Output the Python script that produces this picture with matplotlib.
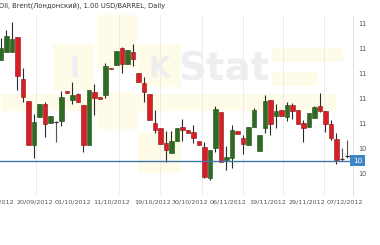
import matplotlib
matplotlib.use('Agg')
import matplotlib.pyplot as plt
import matplotlib.transforms as mtrans
from matplotlib.patches import Rectangle
import numpy as np

title = "Oil, Brent(Лондонский), 1.00 USD/BARREL, Daily"

opens = [115.04,115.66,115.70,116.90,113.52,111.76,108.24,110.50,111.54,109.98,110.06,110.16,112.54,111.86,112.34,111.44,108.24,112.46,112.08,112.24,114.40,114.64,115.98,114.70,115.70,113.98,113.18,112.32,109.98,109.58,108.38,107.58,108.56,109.70,109.44,109.26,108.56,108.10,105.58,107.98,110.90,107.04,107.22,109.36,108.78,108.24,109.70,107.76,109.58,111.84,110.56,111.02,110.50,111.44,111.04,109.98,109.70,110.38,111.38,110.96,109.90,108.72,107.12,107.36]
highs = [116.78,117.44,118.06,116.90,114.42,111.76,110.74,111.50,111.66,110.54,110.16,112.56,112.56,113.30,112.42,111.44,112.64,113.12,112.08,114.82,114.40,115.78,116.08,115.84,116.30,113.98,113.70,112.32,111.04,109.58,109.36,109.36,109.58,110.32,109.44,109.84,108.56,108.50,107.84,111.38,110.90,108.18,109.84,109.36,109.04,109.66,111.22,109.04,112.24,111.84,111.50,111.02,111.66,111.58,111.04,110.24,110.78,111.38,112.38,110.96,110.24,109.18,107.98,108.64]
lows = [115.04,115.66,115.70,112.64,111.70,108.24,107.18,110.50,108.86,109.98,108.50,109.78,112.40,111.52,111.66,107.70,108.24,110.64,111.90,112.02,114.32,114.64,114.04,114.70,114.56,113.26,111.66,110.24,109.18,108.30,106.90,107.58,108.56,108.56,109.18,108.38,108.24,105.58,105.44,107.70,106.90,106.24,106.38,109.12,107.50,108.24,109.70,107.76,109.18,109.04,109.62,110.58,110.16,110.32,109.92,108.50,109.70,110.38,110.90,109.26,108.64,106.70,106.96,107.20]
closes = [115.98,116.96,116.72,113.78,112.10,108.24,110.06,111.50,109.90,110.54,110.10,112.08,112.42,112.24,111.66,108.24,112.64,112.02,111.90,114.58,114.32,115.78,114.70,115.84,115.10,113.26,112.46,110.24,109.44,108.30,107.84,108.56,109.58,109.44,109.18,108.78,108.24,105.70,107.84,111.12,106.90,107.30,109.44,109.12,108.30,109.66,111.04,109.04,111.76,109.90,110.96,110.58,111.44,110.98,109.92,109.58,110.78,111.30,110.96,109.90,108.82,107.04,107.10,107.38]

current_price = 107.0
current_label = "10"

ytick_values = [118, 116, 114, 112, 110, 108, 106]
ytick_labels = ["11", "11", "11", "11", "11", "10", "10"]

xtick_pos = [6.2, 13.1, 20.2, 27.5, 34.4, 41.3, 48.4, 55.6, 62.5]
xtick_labels = ["20/09/2012", "01/10/2012", "11/10/2012", "19/10/2012", "30/10/2012",
                "06/11/2012", "19/11/2012", "29/11/2012", "07/12/2012"]
partial_label = "12/09/2012"
grid_pos = [6.36, 21.45, 28.9, 36.5, 44.0, 51.3, 58.7]

GREEN = "#2f6b22"
GREEN_E = "#1f4a16"
RED = "#d91f26"
RED_E = "#8a1216"
WICK = "#2a2a2a"

fig = plt.figure(figsize=(3.8, 2.45), dpi=100)
ax = fig.add_axes([0, 50/245, 353/380, 180/245])
ax.set_xlim(-0.18, 64.0)
ax.set_ylim(104.24, 118.64)

# faint watermark
yc = "#fefbe9"
for (x0, y0, wd, ht) in [(17.4, 114.4, 7.3, 4.5), (9.4, 112.6, 7.5, 3.7),
                         (24.9, 112.9, 7.8, 3.4), (17.4, 109.5, 7.3, 3.0),
                         (24.9, 106.0, 7.8, 3.3), (49.3, 114.9, 12.8, 1.1),
                         (49.3, 113.0, 8.2, 1.1), (0.0, 111.0, 61.0, 1.3)]:
    ax.add_patch(Rectangle((x0, y0), wd, ht, facecolor=yc, lw=0, zorder=0))
ax.text(13.3, 114.3, "I", fontsize=20, color="#eceef4", ha="center", va="center",
        fontweight="bold", zorder=0)
ax.text(28.8, 114.3, "K", fontsize=20, color="#eeeeee", ha="center", va="center",
        fontweight="bold", zorder=0)
ax.text(40.5, 114.3, "Stat", fontsize=28, color="#eeeeee", ha="center", va="center",
        fontweight="bold", zorder=0)

for g in grid_pos:
    ax.axvline(g, color="#ececec", lw=0.7, zorder=1)

x = np.arange(len(opens))
o = np.array(opens); c = np.array(closes); h = np.array(highs); l = np.array(lows)
w = 0.74
for i in x:
    diff = c[i] - o[i]
    if abs(diff) < 0.05:
        ax.vlines(i, l[i], h[i], color="#555555", lw=0.8, zorder=2)
        ax.hlines(c[i], i - w/2, i + w/2, color="#333333", lw=0.9, zorder=3)
        continue
    col, ec = (GREEN, GREEN_E) if diff > 0 else (RED, RED_E)
    ax.vlines(i, l[i], h[i], color=WICK, lw=0.8, zorder=2)
    ax.bar(i, abs(diff), bottom=min(o[i], c[i]), width=w, color=col,
           edgecolor=ec, linewidth=0.4, zorder=3)

ax.axhline(current_price, color="#3f77a8", lw=1.0, zorder=4)

for s in ["top", "left", "bottom"]:
    ax.spines[s].set_visible(False)
ax.spines["right"].set_color("#e0e0e0")
ax.spines["right"].set_linewidth(0.7)

ax.yaxis.tick_right()
ax.set_yticks(ytick_values)
ax.set_yticklabels(ytick_labels)
ax.tick_params(axis="y", length=0, pad=4, labelsize=4.8, labelcolor="#555555")
ax.set_xticks(xtick_pos)
ax.set_xticklabels(xtick_labels)
ax.tick_params(axis="x", length=0, pad=3, labelsize=4.6, labelcolor="#555555")

# first date label, cut by the left edge as in the reference
trans = mtrans.blended_transform_factory(ax.transData, ax.transAxes) + \
    mtrans.ScaledTranslation(0, -3/72, fig.dpi_scale_trans)
ax.text(-0.9, 0, partial_label, transform=trans, ha="center", va="top",
        fontsize=4.6, color="#555555", clip_on=False)

# current price box
tr2 = mtrans.blended_transform_factory(ax.transAxes, ax.transData)
ax.text(1.0, current_price, current_label, transform=tr2, ha="left", va="center",
        fontsize=5.2, color="white", clip_on=False, zorder=6,
        bbox=dict(boxstyle="square,pad=0.4", facecolor="#3d86c8", edgecolor="none"))

fig.text(-0.002, 1 - 6/245, title, fontsize=4.9, color="#333333", ha="left", va="center")

fig.savefig("out.png", dpi=100)
